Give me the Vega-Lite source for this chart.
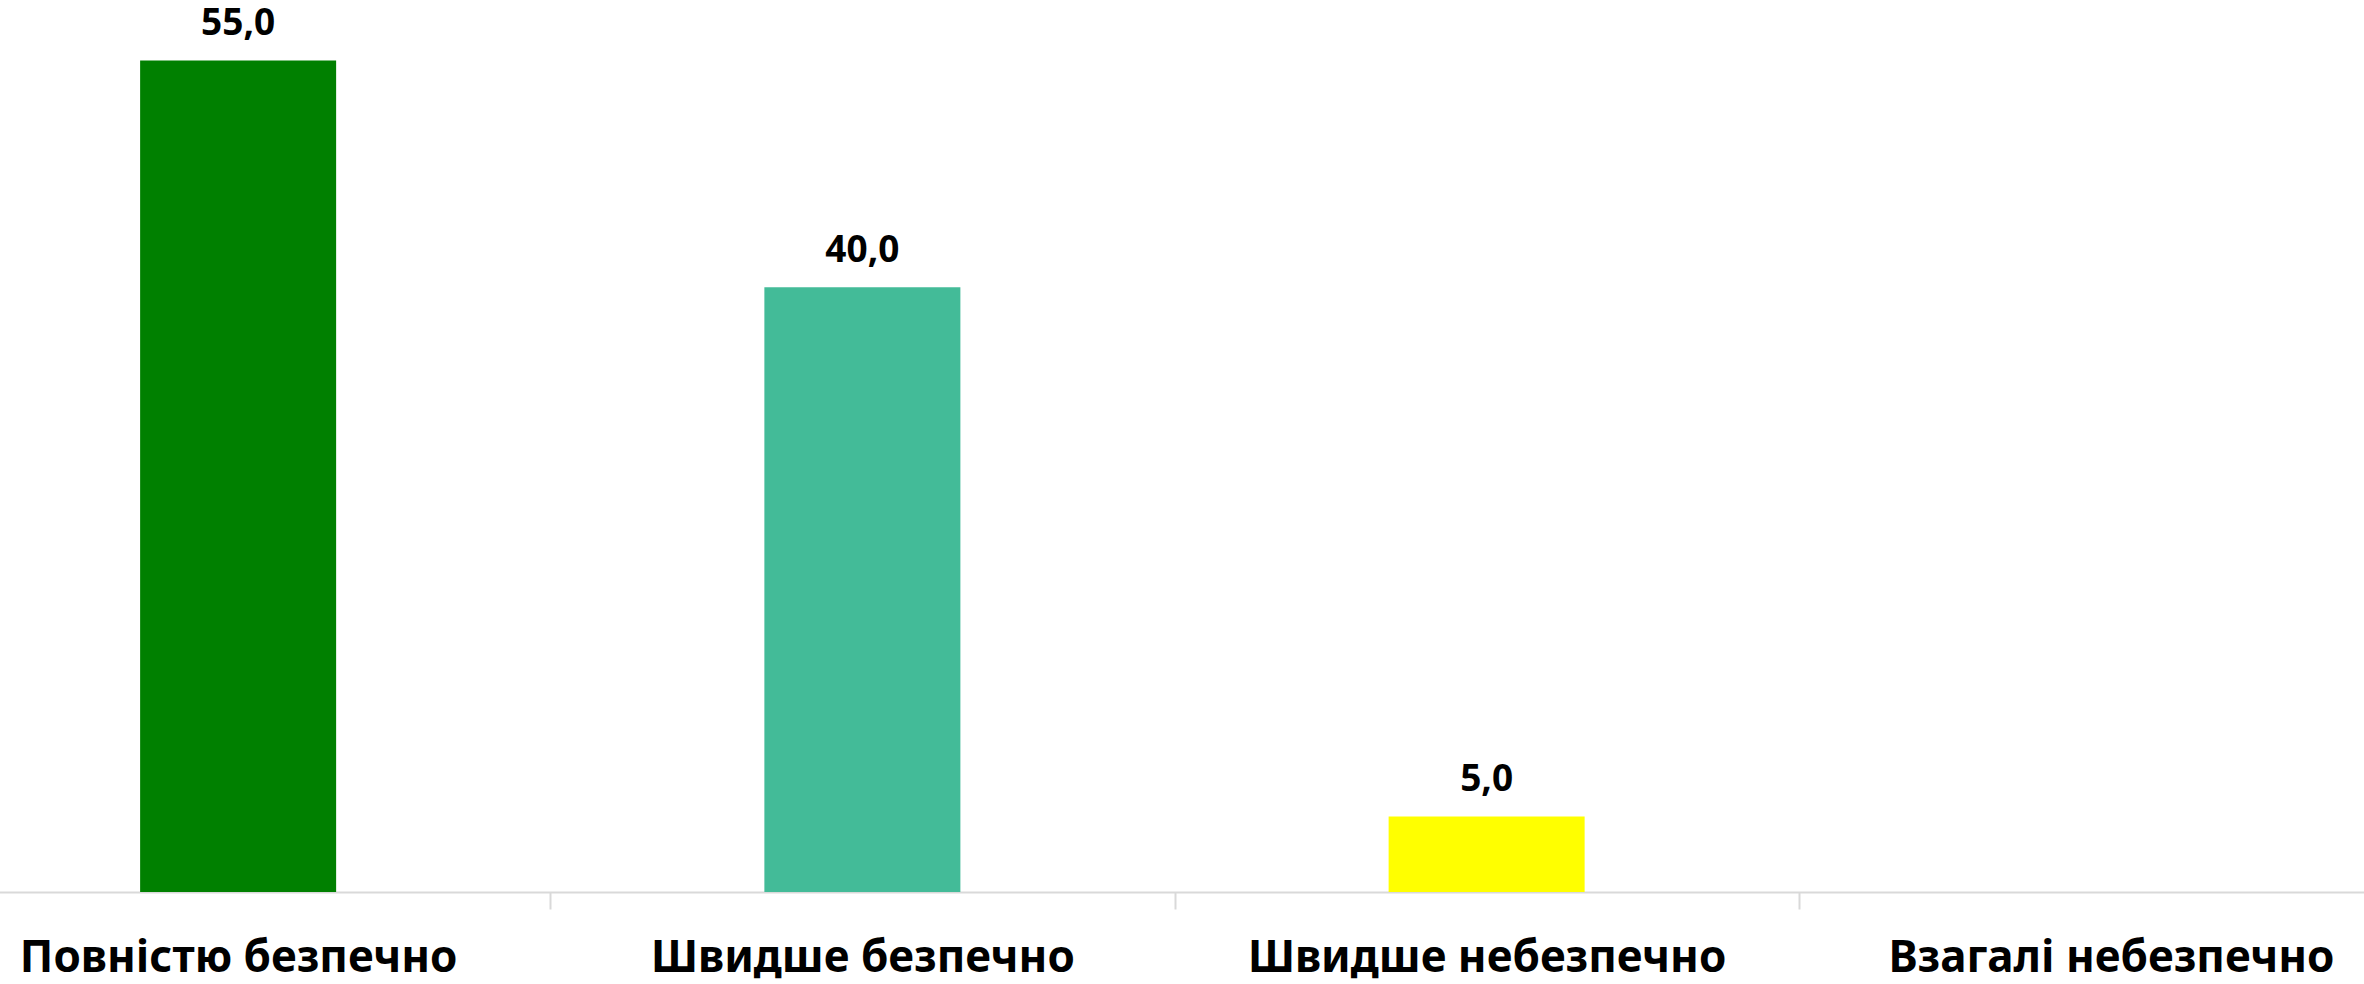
{
  "$schema": "https://vega.github.io/schema/vega-lite/v6.json",
  "width": 2364,
  "height": 892,
  "autosize": {"type": "none"},
  "padding": {"left": 0, "top": 0, "right": 0, "bottom": 92},
  "background": "white",
  "config": {
    "view": {"stroke": null},
    "locale": {"number": {"decimal": ",", "thousands": " ", "grouping": [3], "currency": ["", " ₴"]}}
  },
  "data": {
    "values": [
      {"category": "Повністю безпечно", "value": 55.0},
      {"category": "Швидше безпечно", "value": 40.0},
      {"category": "Швидше небезпечно", "value": 5.0},
      {"category": "Взагалі небезпечно", "value": null}
    ]
  },
  "encoding": {
    "x": {
      "field": "category",
      "type": "nominal",
      "sort": null,
      "scale": {
        "domain": ["Повністю безпечно", "Швидше безпечно", "Швидше небезпечно", "Взагалі небезпечно"],
        "range": [-74, 2423],
        "paddingInner": 0,
        "paddingOuter": 0
      },
      "axis": {
        "title": null,
        "labelAngle": 0,
        "tickBand": "extent",
        "domainColor": "#d9d9d9",
        "domainWidth": 2,
        "tickColor": "#d9d9d9",
        "tickWidth": 2,
        "tickSize": 17,
        "labelFont": "Noto Sans",
        "labelFontWeight": "bold",
        "labelFontSize": 44,
        "labelColor": "#000000",
        "labelBaseline": "alphabetic",
        "labelPadding": 62,
        "labelLimit": 0,
        "labelOverlap": false
      }
    },
    "y": {
      "field": "value",
      "type": "quantitative",
      "scale": {"domain": [0, 59], "nice": false, "zero": true},
      "axis": null
    }
  },
  "layer": [
    {
      "mark": {"type": "bar", "width": {"band": 0.314}},
      "encoding": {
        "color": {
          "field": "category",
          "type": "nominal",
          "scale": {
            "domain": ["Повністю безпечно", "Швидше безпечно", "Швидше небезпечно", "Взагалі небезпечно"],
            "range": ["#008000", "#43BB98", "#FFFF00", "#cccccc"]
          },
          "legend": null
        }
      }
    },
    {
      "mark": {
        "type": "text",
        "baseline": "alphabetic",
        "align": "center",
        "dy": -25,
        "font": "Noto Sans",
        "fontWeight": "bold",
        "fontSize": 37,
        "color": "#000000"
      },
      "encoding": {
        "text": {"field": "value", "type": "quantitative", "format": ".1f"}
      }
    }
  ]
}
